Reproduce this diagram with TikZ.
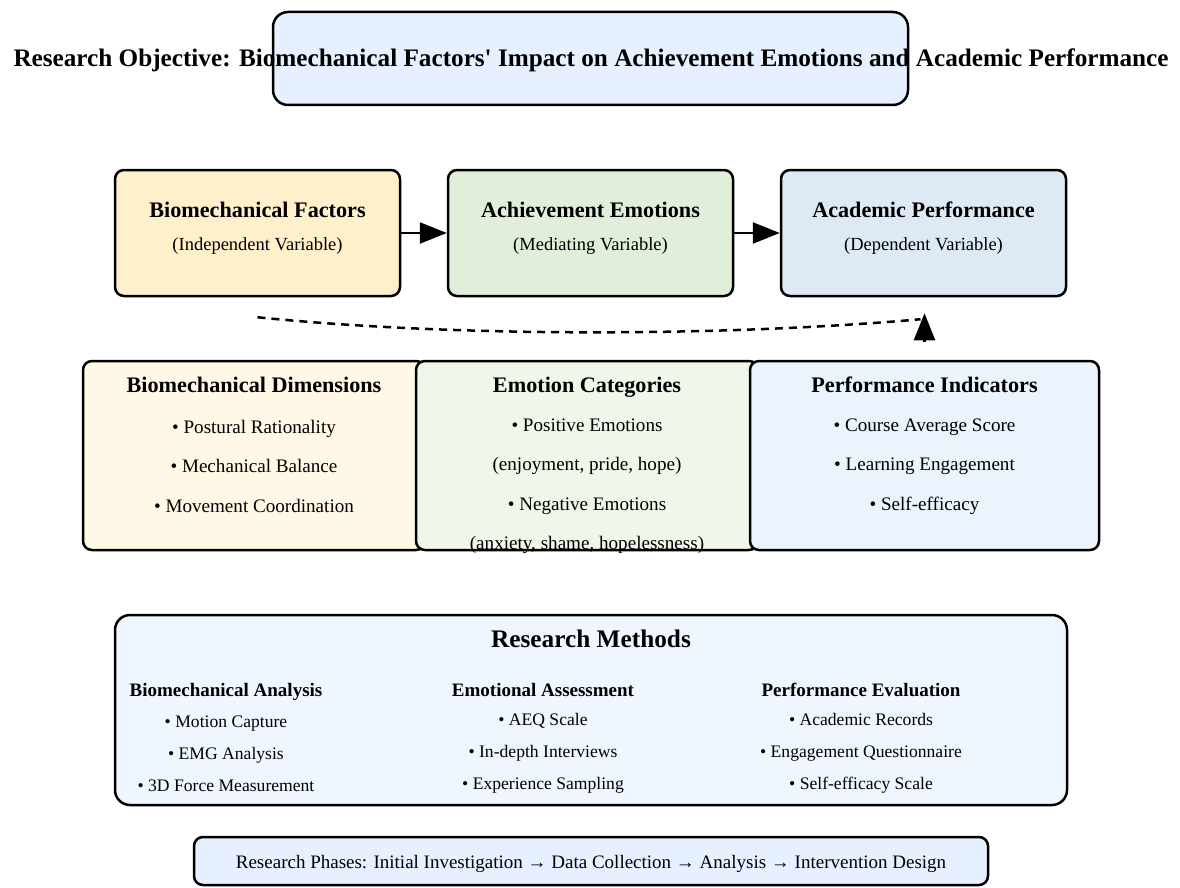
\documentclass[tikz,border=0pt]{standalone}
\usepackage{fontspec}
\setmainfont{Liberation Serif}
\usetikzlibrary{arrows.meta,positioning,calc}

\definecolor{objblue}{HTML}{E6F0FF}
\definecolor{bioyellow}{HTML}{FFF0CC}
\definecolor{emogreen}{HTML}{E1EED9}
\definecolor{perfblue}{HTML}{DEE9F6}
\definecolor{dimyellow}{HTML}{FFF8E6}
\definecolor{catgreen}{HTML}{F0F6E9}
\definecolor{indblue}{HTML}{EBF3FC}
\definecolor{methblue}{HTML}{EFF6FF}

\begin{document}
\begin{tikzpicture}[x=1pt,y=-1pt,>={Triangle[length=27pt,width=21pt]},node distance=333pt,on grid,
    box/.style={draw,line width=2.5pt,rounded corners=9pt,inner sep=0pt},
    varbox/.style={box,minimum width=285pt,minimum height=126pt},
    catbox/.style={box,minimum height=189pt},
    txt/.style={inner sep=0pt,align=center},
    oneline/.style={txt,text height=0.7em,text depth=0.22em},
    vhead/.style={oneline,font=\fontsize{22.2}{26}\selectfont\bfseries},
    vsub/.style={oneline,font=\fontsize{18.5}{22}\selectfont},
    chead/.style={oneline,font=\fontsize{22.2}{26}\selectfont\bfseries},
    citems/.style={txt,font=\fontsize{19.1}{39.5}\selectfont},
    mhead/.style={oneline,font=\fontsize{19}{22}\selectfont\bfseries},
    mitems/.style={txt,font=\fontsize{17.6}{31.8}\selectfont}]
    \useasboundingbox (0,0) rectangle (1180,888);

    %% objective
    \node (obj) [box,rounded corners=15pt,fill=objblue,minimum width=635pt,minimum height=93pt] at (590.5,58.5) {};
    \node (objtxt) [txt,font=\fontsize{25.2}{30}\selectfont\bfseries] at (591,60)
      {Research Objective: Biomechanical Factors\textquotesingle\ Impact on Achievement Emotions and Academic Performance};

    %% variables
    \node (bio) [varbox,fill=bioyellow] at (257.5,233) {};
    \node (emo) [varbox,fill=emogreen,right=of bio] {};
    \node (perf) [varbox,fill=perfblue,right=of emo] {};
    \node (biohead) [vhead] at ($(bio.north)+(0,46)$) {Biomechanical Factors};
    \node (biosub) [vsub,below=33pt of biohead] {(Independent Variable)};
    \node (emohead) [vhead] at ($(emo.north)+(0,46)$) {Achievement Emotions};
    \node (emosub) [vsub,below=33pt of emohead] {(Mediating Variable)};
    \node (perfhead) [vhead] at ($(perf.north)+(0,46)$) {Academic Performance};
    \node (perfsub) [vsub,below=33pt of perfhead] {(Dependent Variable)};

    %% path
    \path[->,line width=2.5pt]
      (bio) edge (emo)
      (emo) edge (perf);
    \coordinate (dstart) at ($(bio.south)+(0,20)$);
    \coordinate (dend) at ($(perf.south)+(-3,22)$);
    \draw[line width=2.5pt,dash pattern=on 8pt off 6pt] (dstart) .. controls (450,337) and (720,337) .. (dend);
    \draw[->,line width=2.5pt] ($(perf.south)+(1,45)$) -- ($(perf.south)+(1,16)$);

    %% categories
    \node (dims) [catbox,fill=dimyellow,minimum width=342pt] at (254,455.5) {};
    \node (cats) [catbox,fill=catgreen,minimum width=342pt] at (587,455.5) {};
    \node (inds) [catbox,fill=indblue,minimum width=349pt] at (924.5,455.5) {};
    \node (dimshead) [chead] at ($(dims.north)+(0,30)$) {Biomechanical Dimensions};
    \node (dimsitems) [citems] at ($(dims.north)+(0,106.5)$)
      {\textbullet\ Postural Rationality\\ \textbullet\ Mechanical Balance\\ \textbullet\ Movement Coordination};
    \node (catshead) [chead] at ($(cats.north)+(0,30)$) {Emotion Categories};
    \node (catsitems) [citems] at ($(cats.north)+(0,126.5)$)
      {\textbullet\ Positive Emotions\\ (enjoyment, pride, hope)\\ \textbullet\ Negative Emotions\\ (anxiety, shame, hopelessness)};
    \node (indshead) [chead] at ($(inds.north)+(0,30)$) {Performance Indicators};
    \node (indsitems) [citems] at ($(inds.north)+(0,106.5)$)
      {\textbullet\ Course Average Score\\ \textbullet\ Learning Engagement\\ \textbullet\ Self-efficacy};

    %% methods
    \node (meth) [box,rounded corners=15pt,fill=methblue,minimum width=952pt,minimum height=190pt] at (591,710) {};
    \node (methhead) [txt,font=\fontsize{25.3}{30}\selectfont\bfseries] at ($(meth.north)+(0,25)$) {Research Methods};
    \node (bmhead) [mhead] at (226,694) {Biomechanical Analysis};
    \node (bmitems) [mitems,below=59.5pt of bmhead] {\textbullet\ Motion Capture\\ \textbullet\ EMG Analysis\\ \textbullet\ 3D Force Measurement};
    \node (eahead) [mhead] at (543,694) {Emotional Assessment};
    \node (eaitems) [mitems,below=59.5pt of eahead] {\textbullet\ AEQ Scale\\ \textbullet\ In-depth Interviews\\ \textbullet\ Experience Sampling};
    \node (pehead) [mhead] at (861,694) {Performance Evaluation};
    \node (peitems) [mitems,below=59.5pt of pehead] {\textbullet\ Academic Records\\ \textbullet\ Engagement Questionnaire\\ \textbullet\ Self-efficacy Scale};

    %% phases
    \node (phase) [box,rounded corners=9pt,fill=objblue,minimum width=794pt,minimum height=48pt] at (591,861) {};
    \node (phasetxt) [txt,font=\fontsize{19}{22}\selectfont] at (591,864)
      {Research Phases: Initial Investigation → Data Collection → Analysis → Intervention Design};
\end{tikzpicture}
\end{document}
